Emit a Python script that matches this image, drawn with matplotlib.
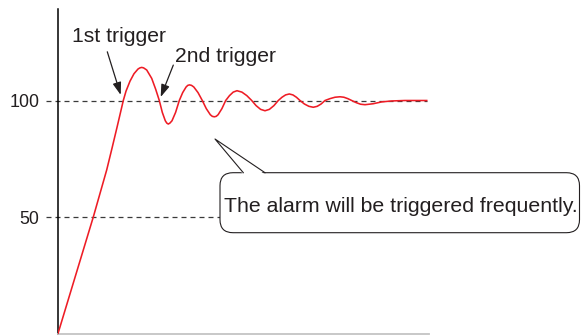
import matplotlib.pyplot as plt
import matplotlib.transforms as mtransforms
from matplotlib.patches import FancyBboxPatch, Polygon
from matplotlib.lines import Line2D

# process value over time (time in arbitrary units)
t = [0, 35.3, 48.7, 54, 59.3, 62.3, 65.3, 68.0, 72.0, 76.0, 80.0, 81.9, 83.7, 85.6,
     88.7, 93.7, 97.7, 101.3,
     104.3, 107.3, 108.8, 110.3, 111.9, 114.0, 117.6, 121.3,
     124.7, 128.1, 129.8, 131.5, 133.5, 135.8, 140.0, 144.3,
     148.3, 152.3, 154.3, 156.3, 158.2, 160.1, 163.9, 167.7,
     171.5, 175.2, 179.0, 183.9, 188.8, 193.7,
     198.1, 202.6, 207.0, 211.4, 215.9, 220.3,
     224.0, 227.6, 231.3, 234.9, 238.4, 242.0,
     246.4, 250.9, 255.3, 259.2, 263.1, 267.0,
     272.0, 277.0, 282.0, 285.9, 289.8, 293.7,
     298.1, 302.6, 307.0, 315.0, 323.7, 333.7, 347.0, 368.7]
value = [0, 50, 70.2, 79.5, 89.0, 94.5, 100, 104.0, 108.3, 111.5, 113.5, 114.0, 114.2, 114.0,
         113.1, 109.5, 104.8, 100,
         94.9, 91.3, 90.3, 89.9, 90.3, 91.3, 94.9, 100,
         103.4, 105.8, 106.5, 106.7, 106.5, 105.8, 103.4, 100,
         96.5, 93.9, 93.2, 93.0, 93.2, 93.9, 96.5, 100,
         102.1, 103.6, 104.2, 103.6, 102.1, 100,
         97.8, 96.2, 95.6, 96.2, 97.8, 100,
         101.4, 102.4, 102.8, 102.4, 101.4, 100,
         98.5, 97.5, 97.1, 97.5, 98.5, 100,
         100.8, 101.4, 101.6, 101.4, 100.8, 100,
         99.1, 98.4, 98.2, 98.6, 99.4, 99.8, 100, 100]

levels = [50, 100]
level_labels = ['50', '100']

# arrow (tip, tail) for the two crossings of the 100 level
trigger_tips = [(62.7, 102.4), (102.7, 101.5)]
trigger_tails = [(49.3, 120.9), (115.3, 115.2)]
trigger_labels = ['1st trigger', '2nd trigger']

plt.rcParams['font.family'] = ['Liberation Sans', 'DejaVu Sans']
ink = '#231f20'
W, H = 581, 335

fig = plt.figure(figsize=(W / 100, H / 100), dpi=100)
ax = fig.add_axes([58 / W, 1.5 / H, 371 / W, 324.5 / H])
ax.set_xlim(0, 371)
ax.set_ylim(0, 324.5 / 2.33)

# pixel coords measured from the top-left corner
pix = mtransforms.Affine2D().scale(1 / W, -1 / H).translate(0, 1) + fig.transFigure

for s in ['top', 'right']:
    ax.spines[s].set_visible(False)
ax.spines['left'].set_color('black')
ax.spines['left'].set_linewidth(1.1)
ax.spines['bottom'].set_color('#c4c4c4')
ax.spines['bottom'].set_linewidth(1.3)
ax.set_xticks([])
ax.set_yticks(levels)
ax.set_yticklabels(level_labels)
ax.tick_params(axis='y', length=0, pad=13.3, labelsize=12.9, labelcolor=ink)

for lv in levels:
    ax.plot([-12, 369], [lv, lv], color='#3a3a3a', lw=0.9, dashes=(4, 3.2),
            clip_on=False, zorder=1)

ax.plot(t, value, color='#ee1c25', lw=1.15, zorder=3, solid_joinstyle='round')

for tip, tail in zip(trigger_tips, trigger_tails):
    ax.annotate('', xy=tip, xytext=tail,
                arrowprops=dict(arrowstyle='-|>,head_length=0.5,head_width=0.17',
                                mutation_scale=15, color=ink, lw=0.9,
                                shrinkA=0, shrinkB=0))

fig.text(72, 42.3, trigger_labels[0], transform=pix, fontsize=15.2, color=ink,
         ha='left', va='baseline')
fig.text(175.3, 62.3, trigger_labels[1], transform=pix, fontsize=15.2, color=ink,
         ha='left', va='baseline')

# speech bubble
box = FancyBboxPatch((220, 172.7), 359.5, 60, boxstyle='round,pad=0,rounding_size=13',
                     transform=pix, facecolor='white', edgecolor=ink, lw=0.8, zorder=5)
fig.add_artist(box)
tail_fill = Polygon([(243.3, 174.5), (215, 139), (265, 174.5)], closed=True,
                    transform=pix, facecolor='white', edgecolor='none', zorder=6)
fig.add_artist(tail_fill)
tail_edge = Line2D([243.3, 215, 265], [172.7, 139, 172.7], transform=pix,
                   color=ink, lw=0.8, zorder=7)
fig.add_artist(tail_edge)
fig.text(224.5, 211.7, 'The alarm will be triggered frequently.', transform=pix,
         fontsize=15.35, color=ink, ha='left', va='baseline', zorder=8)

fig.savefig('out.png', dpi=100)
